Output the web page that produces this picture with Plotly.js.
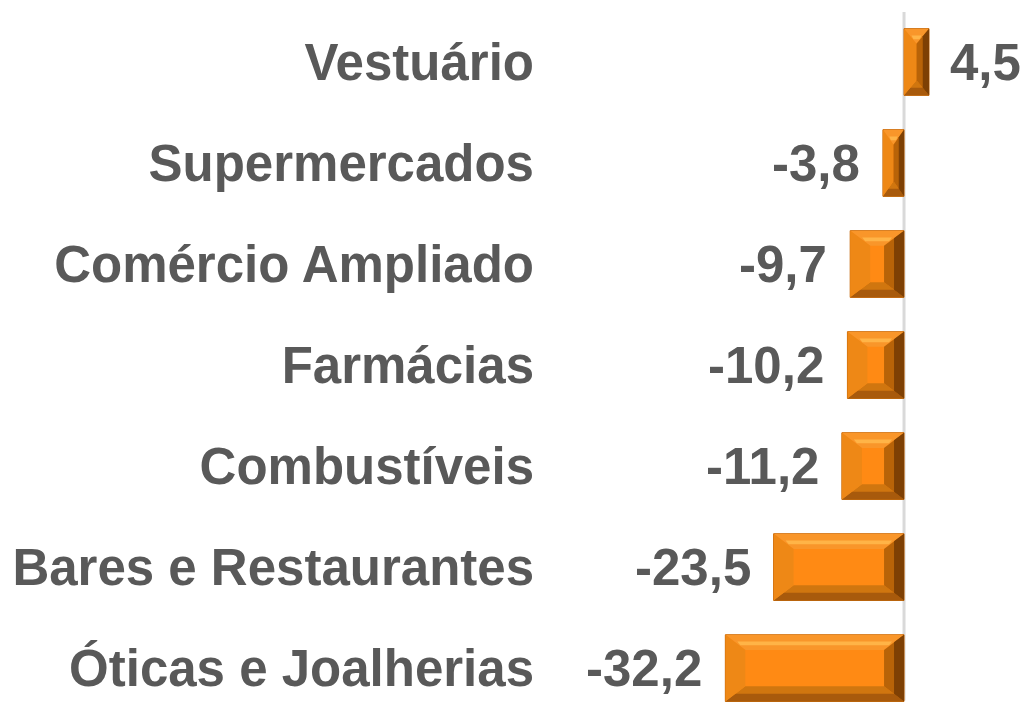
<!DOCTYPE html>
<html>
<head>
<meta charset="utf-8">
<script src="https://cdn.plot.ly/plotly-3.0.1.min.js"></script>
<style>html,body{margin:0;padding:0;background:#fff;}#chart{width:1025px;height:709px;}</style>
</head>
<body>
<div id="chart"></div>
<script>
const categories = ["Óticas e Joalherias","Bares e Restaurantes","Combustíveis","Farmácias","Comércio Ampliado","Supermercados","Vestuário"];
const values = [-32.2, -23.5, -11.2, -10.2, -9.7, -3.8, 4.5];
const tickLabels = categories;

const idx = categories.map((c,i)=>i);
const W = 0.66;
const fontFam = "Liberation Sans, Arial, sans-serif";
const gray = "#595959";

const shapes = [];
function poly(pts, color){
  let p = "M" + pts.map(q=>q[0]+","+q[1]).join(" L") + " Z";
  shapes.push({type:"path", xref:"x", yref:"y", path:p, fillcolor:color, line:{width:0}, layer:"above"});
}
values.forEach((v,i)=>{
  const x0 = Math.min(0,v), x1 = Math.max(0,v);
  const y0 = i - W/2, y1 = i + W/2;
  const bx = Math.min(3.6, (x1-x0)/2), by = Math.min(0.15, W/2);
  poly([[x0,y1],[x1,y1],[x1-bx,y1-by],[x0+bx,y1-by]], "#F9962A");
  poly([[x0+bx*0.6,y1-by*0.45],[x1-bx*0.6,y1-by*0.45],[x1-bx*0.75,y1-by*0.7],[x0+bx*0.75,y1-by*0.7]], "#FFB447");
  poly([[x0,y0],[x1,y0],[x1-bx,y0+by],[x0+bx,y0+by]], "#D0760F");
  poly([[x0,y0],[x1,y0],[x1-bx*0.5,y0+by*0.5],[x0+bx*0.5,y0+by*0.5]], "#A85A0C");
  poly([[x0,y0],[x0,y1],[x0+bx,y1-by],[x0+bx,y0+by]], "#EE8816");
  poly([[x1,y0],[x1,y1],[x1-bx,y1-by],[x1-bx,y0+by]], "#B86308");
  poly([[x1-bx*0.5,y0+by*0.5],[x1-bx*0.5,y1-by*0.5],[x1,y1],[x1,y0]], "#7E4004");
});
shapes.unshift({type:"line", xref:"x", yref:"y", x0:0, x1:0, y0:-0.32, y1:6.5, line:{color:"#d9d9d9", width:3}, layer:"below"});

const annotations = values.map((v,i)=>({
  x: v, y: i, xref:"x", yref:"y",
  text: v.toFixed(1).replace(".", ","),
  showarrow:false,
  xanchor: v < 0 ? "right" : "left",
  xshift: v < 0 ? -21 : 19,
  font:{family:fontFam, size:51, color:gray, weight:"bold"}
}));

const trace = {
  type:"bar", orientation:"h",
  x: values, y: idx, width: W,
  marker:{color:"#FF8A14", line:{color:"#C06000", width:1}},
  hoverinfo:"none"
};

const layout = {
  width:1025, height:709,
  margin:{l:545, r:0, t:12, b:0},
  paper_bgcolor:"#fff", plot_bgcolor:"#fff",
  showlegend:false,
  xaxis:{range:[-64.7, 21.8], visible:false, fixedrange:true},
  yaxis:{range:[-0.405, 6.495], tickvals: idx, ticktext: tickLabels, showgrid:false, zeroline:false, showline:false, ticks:"",
         ticklabelstandoff: 10,
         tickfont:{family:fontFam, size:51, color:gray, weight:"bold"}, fixedrange:true},
  shapes: shapes,
  annotations: annotations
};
Plotly.newPlot("chart", [trace], layout, {displayModeBar:false, staticPlot:true});
</script>
</body>
</html>
